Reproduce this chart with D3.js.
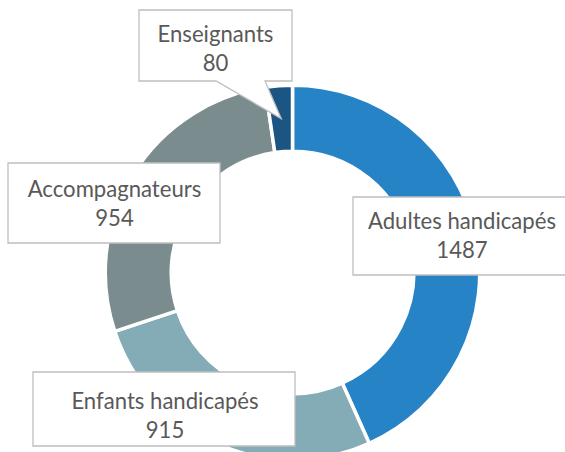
<!DOCTYPE html>
<html>
<head>
<meta charset="utf-8">
<script src="https://cdn.jsdelivr.net/npm/d3@7"></script>
<style>
  html, body { margin: 0; padding: 0; background: #fff; }
  svg { display: block; }
</style>
</head>
<body>
<script>
const categories = ["Adultes handicapés", "Enfants handicapés", "Accompagnateurs", "Enseignants"];
const values = [1487, 915, 954, 80];
const colors = ["#2683C6", "#84ACB6", "#7A8C8E", "#1B5584"];

// label boxes as placed in the original (x0, y0, x1, y1), text centre + first baseline
const label_boxes = [
    [353, 197, 572, 275],
    [33, 372, 295, 446],
    [8, 163, 220, 243],
    [139, 10, 292, 81]
];
const label_text = [
    [462, 229],
    [165, 409],
    [114.5, 197],
    [215.5, 41.5]
];
const callout_base = [216, 265]; // pointer base on the bottom edge of the Enseignants box

const width = 565;
const height = 452;
const cx = 292.5;
const cy = 272.5;
const stroke_w = 3.5;

const svg = d3.select("body").append("svg")
    .attr("width", width)
    .attr("height", height);

const pie = d3.pie().sort(null).value(d => d);
const arc = d3.arc()
    .innerRadius(123 - stroke_w / 2)
    .outerRadius(185.5 + stroke_w / 2);

const arcs = pie(values);

const g = svg.append("g").attr("transform", `translate(${cx},${cy})`);
g.selectAll("path")
    .data(arcs)
    .join("path")
    .attr("d", arc)
    .attr("fill", (d, i) => colors[i])
    .attr("stroke", "#fff")
    .attr("stroke-width", stroke_w)
    .attr("stroke-linejoin", "miter");

// pick a font size so the labels get about the same width as in the original
const font = "Lato, 'Open Sans', sans-serif";
const probe = svg.append("text")
    .attr("font-family", font)
    .attr("font-size", 24)
    .text(categories[0]);
const font_size = 24 * 188 / probe.node().getComputedTextLength();
probe.remove();

const labels = svg.append("g");
arcs.forEach((d, i) => {
    const [x0, y0, x1, y1] = label_boxes[i];
    let path;
    if (i === 3) {
        // callout with a pointer to the middle of the slice
        const [px, py] = arc.centroid(d);
        const tip = [cx + px, cy + py];
        path = `M${x0},${y0}H${x1}V${y1}H${callout_base[1]}L${tip[0]},${tip[1]}L${callout_base[0]},${y1}H${x0}Z`;
    } else {
        path = `M${x0},${y0}H${x1}V${y1}H${x0}Z`;
    }
    labels.append("path")
        .attr("d", path)
        .attr("fill", "#fff")
        .attr("stroke", "#BFBFBF")
        .attr("stroke-width", 1.3)
        .attr("stroke-linejoin", "miter");

    const [tx, ty] = label_text[i];
    const t = labels.append("text")
        .attr("font-family", font)
        .attr("font-size", font_size)
        .attr("fill", "#595959")
        .attr("text-anchor", "middle");
    t.append("tspan").attr("x", tx).attr("y", ty).text(categories[i]);
    t.append("tspan").attr("x", tx).attr("y", ty + 29).text(d.data);
});
</script>
</body>
</html>
